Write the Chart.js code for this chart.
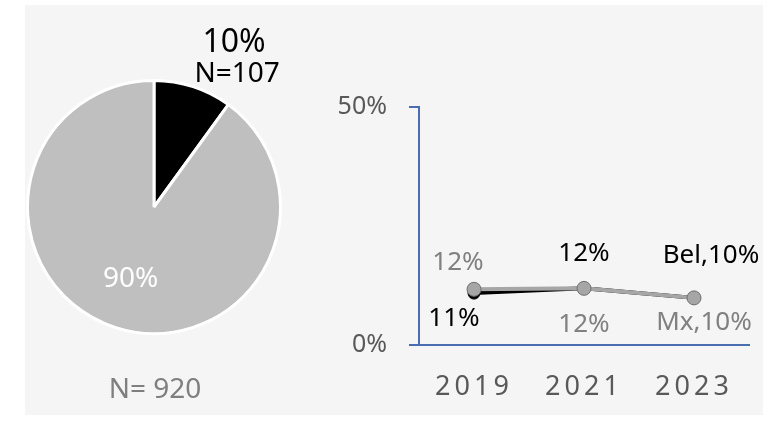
<!DOCTYPE html>
<html>
<head>
<meta charset="utf-8">
<script src="https://cdn.jsdelivr.net/npm/chart.js@4.4.1/dist/chart.umd.min.js"></script>
<style>
  body { margin: 0; background: #ffffff; }
  #panel { position: absolute; left: 25px; top: 5px; width: 738px; height: 410px; background: #f5f5f5; }
  #pieBox { position: absolute; left: 0; top: 0; width: 275px; height: 410px; }
  #lineBox { position: absolute; left: 305px; top: 65px; width: 433px; height: 345px; }
</style>
</head>
<body>
<div id="panel">
  <div id="pieBox"><canvas id="pie"></canvas></div>
  <div id="lineBox"><canvas id="line"></canvas></div>
</div>
<script>
// pie data
const pieLabels = ['Oui', 'Non'];
const pieValues = [10, 90];
const nSlice = 107;
const nTotal = 920;

// line data
const years = ['2019', '2021', '2023'];
const belValues = [10.9, 11.9, 9.9];
const mxValues = [11.7, 11.9, 9.9];
const yTicks = [0, 50];

const FONT = '"Noto Sans", sans-serif';

// label offsets from the point (style only)
const belOffsets = [[-20, 25], [0, -35], [17, -42]];
const mxOffsets = [[-16, -27], [0, 36], [10, 25]];

const pieText = {
  id: 'pieText',
  afterDatasetsDraw(chart) {
    const ctx = chart.ctx;
    const arcs = chart.getDatasetMeta(0).data;
    const cx = arcs[0].x, cy = arcs[0].y, r = arcs[0].outerRadius;
    ctx.save();
    ctx.textAlign = 'center';
    ctx.textBaseline = 'middle';
    // small slice label, outside
    const a0 = arcs[0];
    const mid0 = (a0.startAngle + a0.endAngle) / 2;
    const x0 = cx + Math.cos(mid0) * r + 44;
    const y0 = cy + Math.sin(mid0) * r - 13;
    ctx.fillStyle = '#000000';
    ctx.font = '32px ' + FONT;
    ctx.fillText(pieValues[0] + '%', x0 - 3, y0 - 31);
    ctx.font = '28px ' + FONT;
    ctx.fillText('N=' + nSlice, x0, y0);
    // big slice label, inside
    const a1 = arcs[1];
    const mid1 = (a1.startAngle + a1.endAngle) / 2;
    ctx.fillStyle = '#ffffff';
    ctx.font = '28px ' + FONT;
    ctx.fillText(pieValues[1] + '%', cx + Math.cos(mid1) * r * 0.6, cy + Math.sin(mid1) * r * 0.6);
    // total
    ctx.fillStyle = '#7f7f7f';
    ctx.fillText('N= ' + nTotal, cx + 1, cy + r + 57);
    ctx.restore();
  }
};

new Chart(document.getElementById('pie'), {
  type: 'pie',
  data: {
    labels: pieLabels,
    datasets: [{
      data: pieValues,
      backgroundColor: ['#000000', '#bfbfbf'],
      borderColor: '#ffffff',
      borderWidth: 3
    }]
  },
  options: {
    responsive: true,
    maintainAspectRatio: false,
    animation: false,
    layout: { padding: { left: 1, top: 74, right: 18, bottom: 80 } },
    plugins: { legend: { display: false }, tooltip: { enabled: false } }
  },
  plugins: [pieText]
});

const lineText = {
  id: 'lineText',
  beforeDraw(chart) {
    chart.ctx.letterSpacing = '4px';
  },
  beforeDatasetsDraw(chart) {
    chart.ctx.letterSpacing = '0px';
  },
  afterDatasetsDraw(chart) {
    const ctx = chart.ctx;
    ctx.save();
    ctx.letterSpacing = '0px';
    ctx.textAlign = 'center';
    ctx.textBaseline = 'middle';
    ctx.font = '26px ' + FONT;
    const sets = [[0, belValues, belOffsets, '#000000', 'Bel'], [1, mxValues, mxOffsets, '#808080', 'Mx']];
    sets.forEach(([idx, vals, offs, color, name]) => {
      const pts = chart.getDatasetMeta(idx).data;
      ctx.fillStyle = color;
      pts.forEach((p, i) => {
        let txt = Math.round(vals[i]) + '%';
        if (i === vals.length - 1) txt = name + ',' + txt;
        ctx.fillText(txt, p.x + offs[i][0], p.y + offs[i][1]);
      });
    });
    ctx.restore();
  }
};

new Chart(document.getElementById('line'), {
  type: 'line',
  data: {
    labels: years,
    datasets: [
      {
        label: 'Bel',
        data: belValues,
        borderColor: '#000000',
        backgroundColor: '#000000',
        borderWidth: 4,
        pointRadius: 6,
        pointBorderColor: '#000000',
        pointBorderWidth: 1,
        order: 2
      },
      {
        label: 'Mx',
        data: mxValues,
        borderColor: '#a6a6a6',
        backgroundColor: '#a6a6a6',
        borderWidth: 4,
        pointRadius: 7,
        pointBorderColor: '#6f6f6f',
        pointBorderWidth: 1,
        order: 1
      }
    ]
  },
  options: {
    responsive: true,
    maintainAspectRatio: false,
    animation: false,
    layout: { padding: { top: 32, right: 14, bottom: 0, left: 0 } },
    plugins: { legend: { display: false }, tooltip: { enabled: false } },
    scales: {
      x: {
        offset: true,
        afterFit: s => { s.height = 70; },
        grid: { display: false, drawTicks: false },
        border: { color: '#4a6db0', width: 2 },
        ticks: { color: '#595959', font: { family: FONT, size: 27 }, padding: 26, maxRotation: 0 }
      },
      y: {
        min: 0,
        max: 50,
        afterFit: s => { s.width = 89; },
        afterBuildTicks: s => { s.ticks = yTicks.map(v => ({ value: v })); },
        grid: { drawOnChartArea: false, drawTicks: true, tickLength: 10, color: '#4a6db0', lineWidth: 2 },
        border: { color: '#4a6db0', width: 2 },
        ticks: { z: 1, color: '#595959', font: { family: FONT, size: 25 }, padding: 22, callback: v => v + '%' }
      }
    }
  },
  plugins: [lineText]
});
</script>
</body>
</html>
